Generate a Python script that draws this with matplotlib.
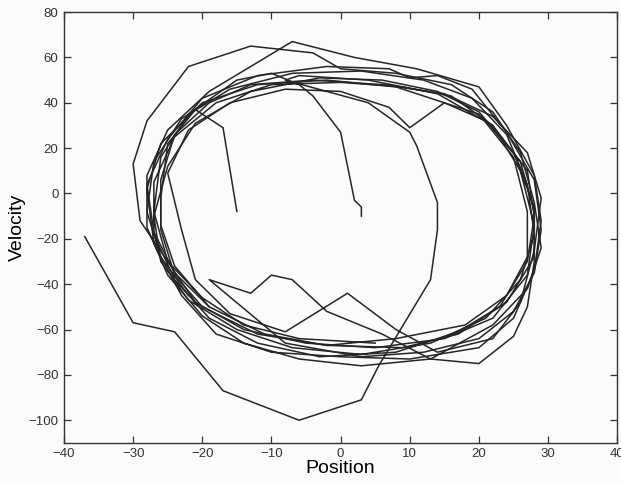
import matplotlib
matplotlib.use('Agg')
import matplotlib.pyplot as plt

plt.rcParams['font.family'] = ['Liberation Sans', 'DejaVu Sans']

# trial 1 - ends in the middle (3, -10)
pos_a = [-22, -26, -28, -27, -23, -16, -7, 3, 12, 19, 24, 27, 28, 26, 21, 13, 3, -7, -15, -22,
         -26, -27, -25, -21, -13, -3, 6, 14, 20, 25, 28, 28, 24, 17, 8, -3, -12, -19, -24, -27,
         -27, -24, -18, -10, 0, 9, 16, 22, 26, 28, 27, 22, 15, 5, -5, -14, -21, -25, -27, -26,
         -22, -15, -10, -6, -4, 0, 2, 3, 3]
vel_a = [-45, -28, -8, 14, 33, 46, 53, 54, 50, 42, 26, 4, -18, -38, -55, -66, -71, -68, -60, -47,
         -30, -10, 12, 31, 45, 51, 50, 45, 36, 18, -6, -28, -48, -61, -70, -72, -66, -55, -38, -18,
         5, 25, 40, 48, 49, 47, 43, 30, 10, -14, -36, -55, -64, -68, -66, -60, -48, -30, -8, 16,
         35, 50, 53, 48, 43, 27, -3, -6, -10]

# trial 2 - ends left of centre (-15, -8)
pos_b = [5, -6, -14, -20, -25, -29, -30, -28, -22, -13, -4, 0, 8, 16, 22, 26, 28, 29, 27, 22,
         13, 3, -6, -14, -20, -25, -28, -28, -25, -19, -7, 2, 11, 20, 24, 28, 29, 28, 25, 20,
         10, 0, -10, -18, -23, -27, -28, -26, -20, -12, -2, 8, 15, 20, 25, 27, 27, 24, 18, 8,
         -2, -11, -19, -24, -26, -26, -25, -21, -17, -15]
vel_b = [-66, -64, -58, -46, -30, -12, 13, 32, 56, 65, 62, 55, 53, 48, 36, 18, -4, -24, -42, -58,
         -73, -76, -73, -66, -54, -36, -15, 8, 28, 45, 67, 60, 55, 47, 30, 8, -12, -34, -55, -68,
         -73, -72, -70, -62, -45, -22, 2, 22, 40, 48, 50, 47, 40, 35, 16, -8, -28, -45, -58, -64,
         -67, -62, -50, -32, -14, -2, 22, 37, 29, -8]

# trial 3 - runs off to the lower left (-37, -19)
pos_c = [-19, -24, -27, -28, -25, -20, -12, -2, 7, 10, 14, 19, 24, 28, 29, 28, 25, 20, 12, 3,
         -8, -19, -13, -10, -7, -2, 6, 13, 20, 25, 27, 28, 28, 26, 21, 15, 10, 7, 0, -8,
         -16, -22, -25, -23, -21, -16, -8, 1, 8, 14, 22, 26, 28, 29, 27, 22, 15, 6, -4, -13,
         -19, -24, -26, -26, -24, -20, -12, -2, 9, 17, 23, 27, 28, 27, 22, 14, 4, -6, -8, 4,
         10, 11, 14, 14, 13, 5.5, 3, -6, -17, -24, -30, -37]
vel_c = [-50, -35, -17, 4, 24, 42, 52, 56, 55, 51, 52, 46, 27, 6, -16, -35, -52, -64, -70, -72,
         -66, -38, -44, -36, -38, -52, -62, -73, -75, -63, -50, -30, -8, 14, 32, 40, 29, 38, 45, 46,
         40, 28, 9, -16, -38, -53, -61, -44, -60, -70, -64, -48, -25, -2, 18, 34, 44, 48, 50, 48,
         40, 26, 6, -16, -36, -50, -62, -67, -68, -62, -50, -30, -10, 10, 30, 44, 50, 52, 50, 40,
         27, 21, -4, -16, -38, -76, -91, -100, -87, -61, -57, -19]

fig = plt.figure(figsize=(6.21, 4.83), dpi=100)
fig.patch.set_facecolor('#fafbfb')
ax = fig.add_axes([0.103, 0.083, 0.891, 0.892])
ax.set_facecolor('#fafbfb')

for p, v in [(pos_a, vel_a), (pos_b, vel_b), (pos_c, vel_c)]:
    ax.plot(p, v, color='#262626', lw=1.1)

ax.set_xlim(-40, 40)
ax.set_ylim(-110, 80)
ax.set_xticks(range(-40, 41, 10))
ax.set_yticks(range(-100, 81, 20))
ax.tick_params(direction='in', top=True, right=True, labelsize=9.5, length=5, width=0.9,
               colors='#333333', pad=4)
for s in ax.spines.values():
    s.set_color('#333333')
    s.set_linewidth(1.0)
ax.set_xlabel('Position', fontsize=14, labelpad=0)
ax.set_ylabel('Velocity', fontsize=14, labelpad=2)

fig.savefig('out.png', dpi=100, facecolor=fig.get_facecolor())
